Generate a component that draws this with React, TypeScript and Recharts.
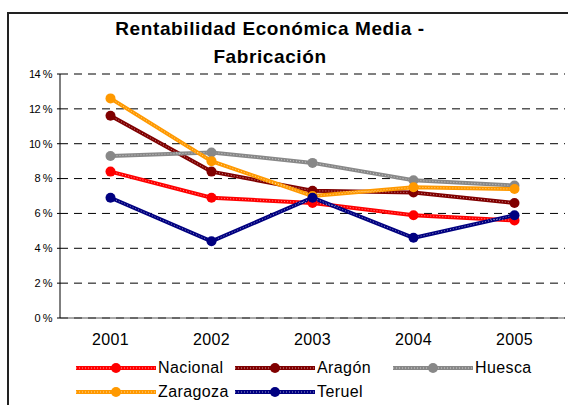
import { LineChart, Line, XAxis, YAxis, CartesianGrid, Legend } from 'recharts'

const years = ['2001', '2002', '2003', '2004', '2005']
const nacional = [8.4, 6.9, 6.6, 5.9, 5.6]
const aragon = [11.6, 8.4, 7.3, 7.2, 6.6]
const huesca = [9.3, 9.5, 8.9, 7.9, 7.6]
const zaragoza = [12.6, 9.0, 7.0, 7.5, 7.4]
const teruel = [6.9, 4.4, 6.9, 4.6, 5.9]
const yTicks = [0, 2, 4, 6, 8, 10, 12, 14]
const bandTicks = [0, 1, 2, 3, 4, 5]

const series = [
  { key: 'Nacional', values: nacional, color: '#FF0000' },
  { key: 'Aragón', values: aragon, color: '#800000' },
  { key: 'Huesca', values: huesca, color: '#888888' },
  { key: 'Zaragoza', values: zaragoza, color: '#FF9900' },
  { key: 'Teruel', values: teruel, color: '#000080' },
]

const data = years.map((year, i) => {
  const row: Record<string, string | number> = { year, idx: i + 0.5 }
  series.forEach((s) => { row[s.key] = s.values[i] })
  return row
})

const font = '"Liberation Sans", Arial, sans-serif'

function LegendBox() {
  const cols = [76, 235, 393]
  return (
    <div style={{ position: 'relative', width: 568, height: 50, fontFamily: font }}>
      {series.map((s, i) => {
        const left = cols[i % 3]
        const top = i < 3 ? 0 : 24
        return (
          <div key={s.key} style={{ position: 'absolute', left, top, display: 'flex', alignItems: 'center', height: 22 }}>
            <svg width={80} height={10} style={{ display: 'block' }}>
              <line x1={0} y1={5} x2={80} y2={5} stroke={s.color} strokeWidth={4} />
              <line x1={0} y1={5} x2={80} y2={5} stroke="#fff" strokeOpacity={0.6} strokeWidth={1} strokeDasharray="1 2" />
              <circle cx={40} cy={5} r={5} fill={s.color} />
            </svg>
            <span style={{ fontSize: 16, marginLeft: 2, letterSpacing: 0.4, color: '#000' }}>{s.key}</span>
          </div>
        )
      })}
    </div>
  )
}

export default function App() {
  return (
    <div style={{ position: 'absolute', left: 0, top: 0, width: 568, height: 405, background: '#fff', overflow: 'hidden' }}>
      <div style={{ position: 'absolute', left: 7, top: 12, width: 600, height: 420, borderLeft: '2px solid #222', borderTop: '2px solid #222' }} />
      <div style={{ position: 'absolute', left: 0, top: 15, width: 540, textAlign: 'center', fontFamily: font, fontWeight: 'bold', fontSize: 19, lineHeight: '28px', letterSpacing: 0.6, color: '#000' }}>
        Rentabilidad Económica Media -<br />Fabricación
      </div>
      <LineChart width={568} height={405} data={data} margin={{ top: 74, right: 3, left: 0, bottom: 57 }} style={{ position: 'absolute', left: 0, top: 0 }}>
        <CartesianGrid vertical={false} stroke="#000" strokeDasharray="8 6" />
        <XAxis xAxisId="b" type="number" dataKey="idx" domain={[0, 5]} ticks={bandTicks} height={0}
          axisLine={false} tick={false} tickSize={4} tickLine={{ stroke: '#555' }} />
        <XAxis dataKey="year" height={30} tickLine={false} axisLine={{ stroke: '#555' }} padding={{ left: 50.5, right: 50.5 }}
          tick={{ fill: '#000', fontSize: 16, fontFamily: font, letterSpacing: 0.4 }} tickMargin={10} />
        <YAxis width={60} domain={[0, 14]} ticks={yTicks} tickFormatter={(v) => `${v} %`} axisLine={{ stroke: '#000' }}
          tickSize={3} tickMargin={5} tickLine={{ stroke: '#000' }} interval={0}
          tick={{ fill: '#000', fontSize: 11, fontFamily: font, letterSpacing: -0.5 }} />
        <Legend verticalAlign="middle" align="center" wrapperStyle={{ top: 357, left: 0, width: 568 }} content={() => <LegendBox />} />
        {series.map((s) => (
          <Line key={s.key} dataKey={s.key} stroke={s.color} strokeWidth={4} isAnimationActive={false}
            dot={{ r: 5, fill: s.color, stroke: 'none' }} activeDot={false} />
        ))}
        {series.map((s) => (
          <Line key={s.key + '-tex'} dataKey={s.key} stroke="#fff" strokeOpacity={0.55} strokeWidth={1} strokeDasharray="1 2"
            isAnimationActive={false} dot={false} activeDot={false} legendType="none" />
        ))}
      </LineChart>
    </div>
  )
}
